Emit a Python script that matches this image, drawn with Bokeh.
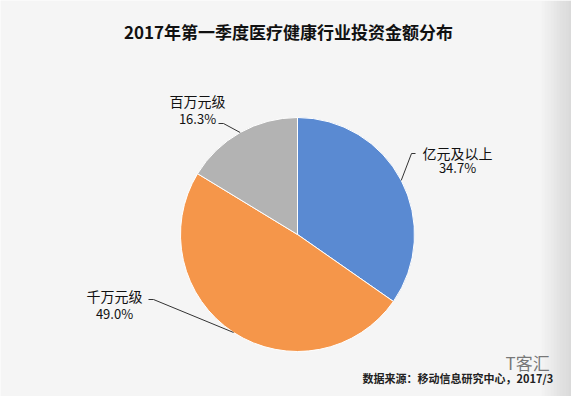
from bokeh.plotting import figure
from bokeh.models import Range1d, ColumnDataSource
from bokeh.embed import file_html
from bokeh.resources import INLINE
from bokeh.core.properties import value
import math

# ---- data ----
categories = ["亿元及以上", "千万元级", "百万元级"]
shares = [34.7, 49.0, 16.3]
colors = ["#5a8ad2", "#f5964a", "#b3b3b3"]
title_text = "2017年第一季度医疗健康行业投资金额分布"
source_text = "数据来源：移动信息研究中心，2017/3"

# ---- layout (reference pixel coords; y converted to up) ----
W, H = 571, 396
def Y(y):
    return H - y

cx, cy, r = 297, Y(234), 117
label_pos = [(457, 152, 167), (114, 295, 313), (197, 100, 118)]   # (x, name_y, pct_y)
elbows = [((411, 153), (415, 153)), ((153, 299), (148, 299)), ((223, 123), (218, 123))]

bg = "#f5f5f5"
p = figure(width=W, height=H, x_range=Range1d(0, W), y_range=Range1d(0, H),
           output_backend="svg", toolbar_location=None, min_border=0)
p.axis.visible = False
p.grid.visible = False
p.outline_line_color = None
p.background_fill_color = bg
p.border_fill_color = bg

# right-edge shadow
for i in range(10):
    x0 = 541 + i * 3
    p.quad(left=x0, right=x0 + 3, bottom=0, top=H,
           fill_color="#000000", fill_alpha=0.011 * (i + 1), line_color=None)

total = sum(shares)
starts, ends, mids = [], [], []
cum = 0.0
for s in shares:
    a0 = math.pi / 2 - 2 * math.pi * cum / total
    cum += s
    a1 = math.pi / 2 - 2 * math.pi * cum / total
    starts.append(a0)
    ends.append(a1)
    mids.append((a0 + a1) / 2)

src = ColumnDataSource(dict(start=starts, end=ends, color=colors))
p.wedge(x=cx, y=cy, radius=r, start_angle="start", end_angle="end", direction="clock",
        fill_color="color", line_color="white", line_width=1, source=src)

for i, cat in enumerate(categories):
    m = mids[i]
    ex, ey = cx + r * math.cos(m), cy + r * math.sin(m)
    (bx, by), (tx, ty) = elbows[i]
    p.line([ex, bx, tx], [ey, Y(by), Y(ty)], line_color="#333333", line_width=1)
    lx, ny, py = label_pos[i]
    p.text(x=[lx], y=[Y(ny)], text=[cat], text_align="center", text_baseline="middle",
           text_font=value("Noto Sans CJK SC"), text_font_size="14px", text_color="#111111")
    p.text(x=[lx], y=[Y(py)], text=["%.1f%%" % shares[i]], text_align="center",
           text_baseline="middle", text_font=value("Noto Sans CJK SC"),
           text_font_size="13px", text_color="#111111")

p.text(x=[288], y=[Y(31)], text=[title_text], text_align="center", text_baseline="middle",
       text_font=value("Noto Sans CJK SC"), text_font_size="17px", text_font_style="bold",
       text_color="#111111")

p.text(x=[362], y=[Y(377)], text=[source_text], text_align="left", text_baseline="middle",
       text_font=value("Noto Sans CJK SC"), text_font_size="11px", text_font_style="bold",
       text_color="#222222")

# watermark
p.text(x=[505], y=[Y(362)], text=["T客汇"], text_align="left", text_baseline="middle",
       text_font=value("Noto Sans CJK SC"), text_font_size="17px", text_color="#555555",
       text_alpha=0.8)

html = file_html(p, INLINE)
open("out.html", "w").write(html)
